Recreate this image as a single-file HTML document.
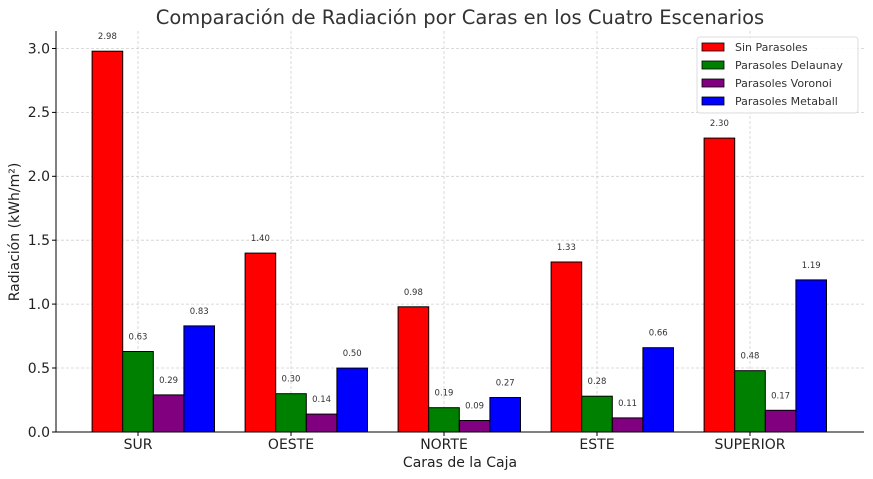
<!DOCTYPE html><html><head><meta charset="utf-8"><style>body{margin:0;background:#fff}svg{display:block;font-family:"DejaVu Sans","Liberation Sans",sans-serif}</style></head><body>
<svg width="873" height="479" xmlns="http://www.w3.org/2000/svg">
<g stroke="#cfcfcf" stroke-dasharray="3,2" stroke-width="0.8">
<line x1="56" x2="864" y1="48.5" y2="48.5"/><line x1="56" x2="864" y1="112.4" y2="112.4"/><line x1="56" x2="864" y1="176.3" y2="176.3"/><line x1="56" x2="864" y1="240.2" y2="240.2"/><line x1="56" x2="864" y1="304.1" y2="304.1"/><line x1="56" x2="864" y1="368" y2="368"/>
<line x1="138" x2="138" y1="31" y2="432"/><line x1="291" x2="291" y1="31" y2="432"/><line x1="444" x2="444" y1="31" y2="432"/><line x1="597" x2="597" y1="31" y2="432"/><line x1="750" x2="750" y1="31" y2="432"/>
</g>
<g stroke="#000" stroke-width="1">
<rect x="92.1" y="51.2" width="30.6" height="380.8" fill="#f00"/><rect x="122.7" y="351.5" width="30.6" height="80.5" fill="#008000"/><rect x="153.3" y="394.9" width="30.6" height="37.1" fill="#800080"/><rect x="183.9" y="325.9" width="30.6" height="106.1" fill="#00f"/>
<rect x="245.1" y="253.1" width="30.6" height="178.9" fill="#f00"/><rect x="275.7" y="393.7" width="30.6" height="38.3" fill="#008000"/><rect x="306.3" y="414.1" width="30.6" height="17.9" fill="#800080"/><rect x="336.9" y="368.1" width="30.6" height="63.9" fill="#00f"/>
<rect x="398.1" y="306.8" width="30.6" height="125.2" fill="#f00"/><rect x="428.7" y="407.7" width="30.6" height="24.3" fill="#008000"/><rect x="459.3" y="420.5" width="30.6" height="11.5" fill="#800080"/><rect x="489.9" y="397.5" width="30.6" height="34.5" fill="#00f"/>
<rect x="551.1" y="262" width="30.6" height="170" fill="#f00"/><rect x="581.7" y="396.2" width="30.6" height="35.8" fill="#008000"/><rect x="612.3" y="417.9" width="30.6" height="14.1" fill="#800080"/><rect x="642.9" y="347.7" width="30.6" height="84.3" fill="#00f"/>
<rect x="704.1" y="138.1" width="30.6" height="293.9" fill="#f00"/><rect x="734.7" y="370.7" width="30.6" height="61.3" fill="#008000"/><rect x="765.3" y="410.3" width="30.6" height="21.7" fill="#800080"/><rect x="795.9" y="279.9" width="30.6" height="152.1" fill="#00f"/>
</g>
<g font-size="8.5" fill="#333" text-anchor="middle">
<text x="107.4" y="39.2">2.98</text><text x="138" y="339.5">0.63</text><text x="168.6" y="382.9">0.29</text><text x="199.2" y="313.9">0.83</text>
<text x="260.4" y="241.1">1.40</text><text x="291" y="381.7">0.30</text><text x="321.6" y="402.1">0.14</text><text x="352.2" y="356.1">0.50</text>
<text x="413.4" y="294.8">0.98</text><text x="444" y="395.7">0.19</text><text x="474.6" y="408.5">0.09</text><text x="505.2" y="385.5">0.27</text>
<text x="566.4" y="250">1.33</text><text x="597" y="384.2">0.28</text><text x="627.6" y="405.9">0.11</text><text x="658.2" y="335.7">0.66</text>
<text x="719.4" y="126.1">2.30</text><text x="750" y="358.7">0.48</text><text x="780.6" y="398.3">0.17</text><text x="811.2" y="267.9">1.19</text>
</g>
<line x1="56" x2="56" y1="31" y2="432" stroke="#000"/>
<line x1="56" x2="864" y1="432" y2="432" stroke="#000"/>
<g font-size="14" fill="#222" text-anchor="end">
<text x="50" y="437">0.0</text><text x="50" y="373">0.5</text><text x="50" y="309">1.0</text><text x="50" y="245">1.5</text><text x="50" y="181">2.0</text><text x="50" y="117">2.5</text><text x="50" y="53.5">3.0</text>
</g>
<g stroke="#000"><line x1="52" x2="56" y1="432" y2="432"/><line x1="52" x2="56" y1="368" y2="368"/><line x1="52" x2="56" y1="304.1" y2="304.1"/><line x1="52" x2="56" y1="240.2" y2="240.2"/><line x1="52" x2="56" y1="176.3" y2="176.3"/><line x1="52" x2="56" y1="112.4" y2="112.4"/><line x1="52" x2="56" y1="48.5" y2="48.5"/>
<line x1="138" x2="138" y1="432" y2="436"/><line x1="291" x2="291" y1="432" y2="436"/><line x1="444" x2="444" y1="432" y2="436"/><line x1="597" x2="597" y1="432" y2="436"/><line x1="750" x2="750" y1="432" y2="436"/></g>
<g font-size="14" fill="#222" text-anchor="middle">
<text x="138" y="449">SUR</text><text x="291" y="449">OESTE</text><text x="444" y="449">NORTE</text><text x="597" y="449">ESTE</text><text x="750" y="449">SUPERIOR</text>
<text x="460" y="467">Caras de la Caja</text>
<text x="460" y="24" font-size="19.5" fill="#333">Comparación de Radiación por Caras en los Cuatro Escenarios</text>
<text transform="translate(19,232) rotate(-90)">Radiación (kWh/m²)</text>
</g>
<rect x="697" y="37" width="161" height="76" rx="3" fill="#fff" fill-opacity="0.85" stroke="#ddd"/>
<g stroke="#000" stroke-width="0.8"><rect x="702" y="43" width="22" height="8" fill="#f00"/><rect x="702" y="61" width="22" height="8" fill="#008000"/><rect x="702" y="79" width="22" height="8" fill="#800080"/><rect x="702" y="97" width="22" height="8" fill="#00f"/></g>
<g font-size="11" fill="#333"><text x="735" y="51">Sin Parasoles</text><text x="735" y="69">Parasoles Delaunay</text><text x="735" y="87">Parasoles Voronoi</text><text x="735" y="105">Parasoles Metaball</text></g>
</svg></body></html>
